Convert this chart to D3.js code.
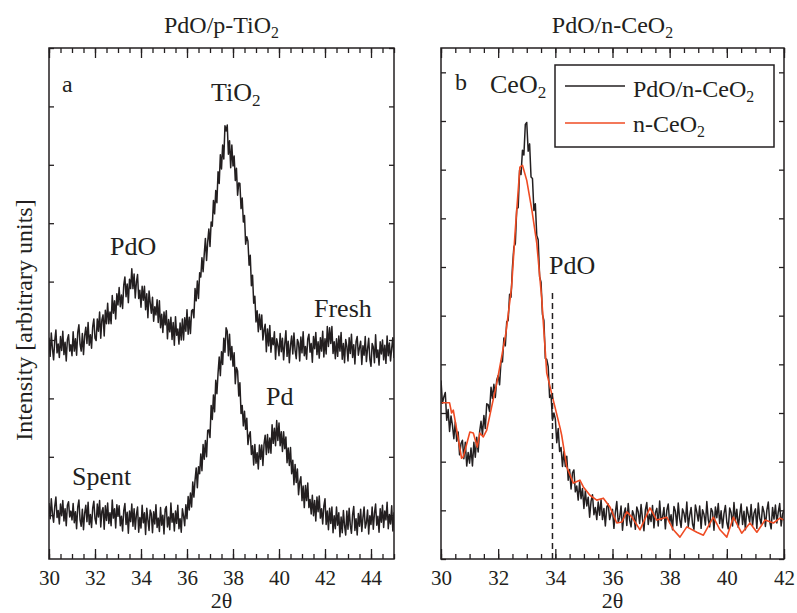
<!DOCTYPE html>
<html>
<head>
<meta charset="utf-8">
<script src="https://cdn.jsdelivr.net/npm/d3@7"></script>
<style>
  body { margin: 0; background: #fff; }
  svg { display: block; font-family: 'Liberation Serif', 'Times New Roman', serif; }
  .axis path { display: none; }
  .axis line { stroke: #231f20; stroke-width: 1.3; }
  .axis text { font-size: 21px; fill: #231f20; font-family: 'Liberation Serif', 'Times New Roman', serif; }
</style>
</head>
<body>
<svg id="chart" width="797" height="613"></svg>
<script>
// panel a: 2theta from 30 to 45 in 0.05 steps, intensity x100 (arbitrary units)
const fresh = [
  304,272,312,285,266,299,317,278,293,270,306,282,315,275,296,264,301,309,281,292,273,
  314,281,302,274,313,326,293,281,311,275,307,322,294,330,291,309,286,323,336,303,
  299,336,315,348,303,335,343,307,351,328,363,328,348,328,376,346,367,336,379,360,
  390,357,377,354,394,408,374,396,364,404,388,422,388,
  413,372,399,412,371,385,356,392,368,392,
  352,379,338,384,364,346,373,332,357,343,369,
  330,367,321,344,313,348,326,350,302,335,314,339,
  301,330,291,340,308,319,293,329,300,336,
  300,338,315,352,310,339,311,350,
  352,338,388,367,401,371,415,408,
  441,417,447,474,436,468,490,460,502,
  495,539,516,556,535,
  588,568,617,593,
  634,610,667,658,
  668,618,641,595,634,598,615,
  573,594,548,569,568,
  525,543,502,513,464,477,
  469,428,445,393,
  411,363,375,331,350,
  314,344,318,343,300,317,327,280,
  319,290,325,279,304,292,314,267,302,291,273,
  311,280,303,266,293,316,272,298,261,291,307,276,312,282,268,301,295,264,305,278,
  314,273,289,267,302,310,279,294,262,306,285,313,275,297,269,304,281,315,271,
  302,276,323,289,321,294,323,277,297,268,302,
  272,307,281,313,267,294,261,301,289,264,304,277,310,270,292,259,297,306,274,287,
  298,258,290,274,306,263,285,303,267,255,294,288,261,309,270,283,257,297,276,300,
  266,291,260,307,273,295,264,286,304,269
];
const spent = [
  21,-6,28,2,-12,15,31,-4,8,-15,19,-1,25,-10,11,-18,17,23,-3,7,-8,
  20,-13,6,-23,14,26,-8,-19,10,-25,3,17,-11,22,-16,1,-21,12,24,-6,
  -15,19,-3,25,-20,7,13,-24,16,-9,21,-14,4,-18,26,-5,11,-22,18,-2,
  16,-18,-2,-27,8,20,-16,5,-31,7,-11,19,-19,11,-24,1,14,-29,-4,-22,
  17,-13,4,-33,12,-8,-26,9,2,-30,6,-15,18,-21,-5,-28,13,-17,0,-32,
  10,15,-20,-3,-25,21,-12,3,-27,7,-14,17,-23,-6,-29,11,-1,-18,
  18,-6,32,9,38,14,
  57,31,60,81,47,83,71,105,
  76,121,96,128,100,145,
  146,133,188,164,206,177,
  231,208,243,271,239,280,
  258,303,279,321,315,
  273,310,266,289,255,278,225,253,
  247,204,227,174,188,
  153,178,147,166,121,137,
  143,104,119,86,121,89,107,
  79,120,96,120,85,122,137,104,
  138,107,132,106,155,123,149,119,162,
  128,158,119,143,109,143,
  114,134,90,115,85,116,
  71,94,52,87,56,79,35,57,
  66,25,50,13,51,25,55,13,27,2,34,
  -1,25,-10,31,6,33,-5,11,-15,16,28,-16,7,-25,12,
  -14,14,-30,-1,-23,14,-17,4,-37,-3,-30,8,-18,-34,
  7,-24,12,-17,-31,1,15,-26,-6,-34,3,-19,10,-28,-4,14,-22,-13,9,-32,-1,-16,
  14,-24,3,19,-17,-2,-29,11,-12,17,-21,7,-8,22,-23,1,-15,16,-27,5
];
const thetaA = fresh.map((d, i) => 30 + i * 0.05);

// panel b: 2theta from 30 to 42 in 0.05 steps, intensity x100
const pdoCeo2 = [
  367,320,333,342,285,307,262,294,275,247,282,242,261,214,237,244,206,240,191,219,197,228,191,
  240,209,250,220,261,283,255,295,268,319,317,303,353,330,359,332,368,
  377,358,407,405,454,438,488,490,544,538,600,641,648,720,722,799,790,840,830,893,897,
  838,853,785,782,716,730,665,656,580,569,502,490,412,410,396,332,337,285,300,
  288,239,268,221,229,190,221,190,211,162,184,144,177,183,138,150,121,158,124,145,
  104,140,109,127,86,119,132,91,106,81,117,90,122,81,104,68,107,113,81,93,
  102,63,96,118,76,85,109,59,93,105,69,114,80,66,99,90,61,107,97,73,
  112,82,58,101,116,71,92,77,110,64,95,104,68,119,79,86,106,62,100,113,
  74,91,60,108,98,69,115,83,65,103,94,76,117,67,89,106,72,61,111,96,
  78,109,63,101,92,70,118,81,66,104,97,59,107,85,114,73,99,64,93,110,
  75,62,105,95,68,116,79,102,65,89,113,71,98,60,107,91,76,112,69,94,
  103,63,115,84,72,108,96,67,100,117,77,62,106,82,111,74,97,114,68,92,101
];
const thetaB = pdoCeo2.map((d, i) => 30 + i * 0.05);
const ceo2Theta = [
  30.0,30.3,30.37,30.43,30.72,30.78,31.01,31.13,31.27,31.36,31.48,31.6,31.77,31.95,32.12,32.27,
  32.47,32.59,32.76,32.85,33.0,33.18,33.35,33.52,33.7,33.93,34.16,34.22,34.4,34.63,34.86,34.98,
  35.21,35.45,35.68,35.91,36.15,36.33,36.5,36.68,36.96,37.31,37.55,37.9,38.13,38.36,38.6,38.95,
  39.18,39.53,39.76,40.0,40.23,40.52,40.81,41.05,41.34,41.63,41.86,42.0
];
const ceo2 = [
  321,321,300,306,207,210,261,259,230,259,251,265,312,361,415,464,
  559,669,805,809,778,717,649,538,382,326,271,255,189,156,162,148,
  131,121,125,107,74,76,97,86,60,105,80,86,60,45,66,55,
  49,86,60,45,86,53,74,55,80,74,84,80
];

const ticksA = [30, 32, 34, 36, 38, 40, 42, 44];
const ticksB = [30, 32, 34, 36, 38, 40, 42];
const pdoLine = 33.9;

const ink = '#231f20';
const orange = '#ef4b23';
const serif = "'Liberation Serif', 'Times New Roman', serif";
const svg = d3.select('#chart');

function sub(sel, main, low) {
  sel.append('tspan').text(main);
  sel.append('tspan').attr('font-size', '0.66em').attr('dy', '0.32em').text(low);
}

function drawPanel(p) {
  const g = svg.append('g');
  const x = d3.scaleLinear().domain(p.xDomain).range([p.left, p.right]);
  const y = d3.scaleLinear().domain(p.yDomain).range([p.bottom, p.top]);
  const clipId = `clip-${p.name}`;

  svg.append('clipPath').attr('id', clipId)
    .append('rect')
    .attr('x', p.left).attr('y', p.top)
    .attr('width', p.right - p.left).attr('height', p.bottom - p.top);

  // minor + major x ticks, bottom and top, pointing inward
  const minor = d3.range(p.xDomain[0], p.xDomain[1] + 0.01, 0.5);
  g.append('g').attr('class', 'axis')
    .attr('transform', `translate(0,${p.bottom})`)
    .call(d3.axisBottom(x).tickValues(minor).tickSize(-5).tickFormat(''));
  g.append('g').attr('class', 'axis')
    .attr('transform', `translate(0,${p.top})`)
    .call(d3.axisTop(x).tickValues(minor).tickSize(-5).tickFormat(''));
  g.append('g').attr('class', 'axis')
    .attr('transform', `translate(0,${p.top})`)
    .call(d3.axisTop(x).tickValues(p.xTicks).tickSize(-10).tickFormat(''));
  const xb = g.append('g').attr('class', 'axis')
    .attr('transform', `translate(0,${p.bottom})`)
    .call(d3.axisBottom(x).tickValues(p.xTicks).tickSize(-10).tickPadding(11));
  xb.attr('font-family', serif);
  xb.selectAll('text').attr('dy', '0.71em').attr('font-family', serif);

  // y ticks both sides, no labels
  const yt = d3.range(Math.ceil(p.yDomain[0]), Math.floor(p.yDomain[1]) + 1);
  g.append('g').attr('class', 'axis')
    .attr('transform', `translate(${p.left},0)`)
    .call(d3.axisLeft(y).tickValues(yt).tickSize(-5).tickFormat(''));
  g.append('g').attr('class', 'axis')
    .attr('transform', `translate(${p.right},0)`)
    .call(d3.axisRight(y).tickValues(yt).tickSize(-5).tickFormat(''));

  const plot = g.append('g').attr('clip-path', `url(#${clipId})`);
  p.series.forEach(s => {
    const line = d3.line().x((d, i) => x(s.x[i])).y(d => y(d / 100));
    plot.append('path')
      .datum(s.y)
      .attr('d', line)
      .attr('fill', 'none')
      .attr('stroke', s.color)
      .attr('stroke-width', s.width)
      .attr('stroke-linejoin', 'round');
  });

  if (p.extra) p.extra(g, x, y);

  g.append('rect')
    .attr('x', p.left).attr('y', p.top)
    .attr('width', p.right - p.left).attr('height', p.bottom - p.top)
    .attr('fill', 'none').attr('stroke', ink).attr('stroke-width', 1.5);

  const title = g.append('text')
    .attr('x', (p.left + p.right) / 2).attr('y', 33)
    .attr('text-anchor', 'middle').attr('font-size', 24).attr('fill', ink);
  sub(title, p.title, '2');

  g.append('text')
    .attr('x', (p.left + p.right) / 2).attr('y', 608)
    .attr('text-anchor', 'middle').attr('font-size', 22).attr('fill', ink)
    .attr('font-family', serif)
    .text('2θ');

  p.labels.forEach(l => {
    const t = g.append('text').attr('x', l.x).attr('y', l.y)
      .attr('font-size', l.size || 26).attr('fill', ink);
    if (l.sub) sub(t, l.text, l.sub); else t.text(l.text);
  });
}

drawPanel({
  name: 'a',
  left: 49, right: 394, top: 48, bottom: 559,
  xDomain: [30, 45], yDomain: [-0.75, 8],
  xTicks: ticksA,
  title: 'PdO/p-TiO',
  series: [
    { x: thetaA, y: fresh, color: ink, width: 1.5 },
    { x: thetaA, y: spent, color: ink, width: 1.5 }
  ],
  labels: [
    { x: 62, y: 92, text: 'a', size: 24 },
    { x: 211, y: 101, text: 'TiO', sub: '2' },
    { x: 110, y: 255, text: 'PdO' },
    { x: 314, y: 317, text: 'Fresh' },
    { x: 72, y: 485, text: 'Spent' },
    { x: 266, y: 405, text: 'Pd' }
  ]
});

drawPanel({
  name: 'b',
  left: 441, right: 784, top: 48, bottom: 559,
  xDomain: [30, 42], yDomain: [0, 10.5],
  xTicks: ticksB,
  title: 'PdO/n-CeO',
  series: [
    { x: thetaB, y: pdoCeo2, color: ink, width: 1.5 },
    { x: ceo2Theta, y: ceo2, color: orange, width: 1.6 }
  ],
  labels: [
    { x: 455, y: 90, text: 'b', size: 24 },
    { x: 490, y: 93, text: 'CeO', sub: '2' },
    { x: 549, y: 274, text: 'PdO' }
  ],
  extra: (g, x, y) => {
    g.append('line')
      .attr('x1', x(pdoLine)).attr('x2', x(pdoLine))
      .attr('y1', y(0)).attr('y2', y(5.48))
      .attr('stroke', ink).attr('stroke-width', 1.5)
      .attr('stroke-dasharray', '6,4');

    const lg = g.append('g');
    lg.append('rect')
      .attr('x', 555).attr('y', 65).attr('width', 219).attr('height', 82)
      .attr('fill', '#fff').attr('stroke', ink).attr('stroke-width', 1.5);
    [['PdO/n-CeO', ink, 86, 97], ['n-CeO', orange, 123, 132]].forEach(([txt, c, ly, ty]) => {
      lg.append('line')
        .attr('x1', 565).attr('x2', 625).attr('y1', ly).attr('y2', ly)
        .attr('stroke', c).attr('stroke-width', 1.6);
      const t = lg.append('text').attr('x', 633).attr('y', ty)
        .attr('font-size', 24).attr('fill', ink);
      sub(t, txt, '2');
    });
  }
});

svg.append('text')
  .attr('transform', 'translate(32,320) rotate(-90)')
  .attr('text-anchor', 'middle')
  .attr('font-size', 24).attr('fill', ink)
  .text('Intensity [arbitrary units]');
</script>
</body>
</html>
